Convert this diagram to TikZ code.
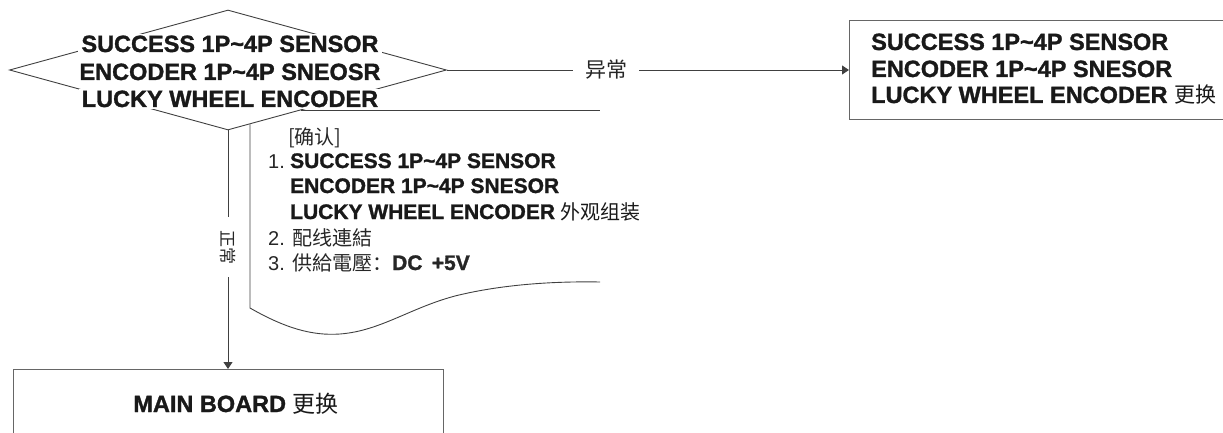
\documentclass[tikz,border=0pt]{standalone}
\usepackage{fontspec}
\setmainfont{Liberation Sans}[BoldFeatures={FakeBold=1.3}]
\newfontfamily\cjk{Noto Sans CJK SC}
\usetikzlibrary{arrows.meta,shapes.geometric}
\tikzset{
  ln/.style={draw=black!75, line width=0.9pt},
  boxln/.style={draw=black!60, line width=1.1pt},
  arr/.style={ln, -{Triangle[length=7pt,width=9pt]}},
  big/.style={font=\fontsize{23.5}{28}\selectfont\bfseries, text=black!90, inner sep=0pt},
  mid/.style={font=\fontsize{21}{25}\selectfont\bfseries, text=black!90, inner sep=0pt},
  mask/.style={fill=white, inner xsep=3pt, inner ysep=1.5pt},
  lbl/.style={font=\cjk\fontsize{21}{25}\selectfont, text=black!85, fill=white},
  reg/.style={font=\fontsize{20}{24}\selectfont, text=black!85, inner sep=0pt},
}
\begin{document}
\begin{tikzpicture}[x=1pt,y=-1pt]
\useasboundingbox (0,0) rectangle (1223,433);
\clip (0,0) rectangle (1223,433);
% decision diamond
\node[diamond, ln, fill=white, minimum width=437pt, minimum height=120pt, inner sep=0pt] (dia) at (228,70) {};
\node[big, mask, anchor=base] (d1) at (230,52) {SUCCESS 1P\textasciitilde4P SENSOR};
\node[big, mask, anchor=base] (d2) at (230,80) {ENCODER 1P\textasciitilde4P SNEOSR};
\node[big, mask, anchor=base] (d3) at (230,107) {LUCKY WHEEL ENCODER};
% document shape, its corner hidden behind the diamond
\draw[ln] (301,110) -- (600,110);
\draw[ln] (250,124.5) -- (250,308)
  .. controls (285,328) and (312,336) .. (340,334)
  .. controls (380,331) and (410,308) .. (455,296)
  .. controls (495,286) and (545,281) .. (600,282);
% right box
\node[boxln, anchor=north west, minimum width=420pt, minimum height=99pt, inner sep=0pt] (rbox) at (849,20) {};
\node[big, anchor=base west] (r1) at (871,50) {SUCCESS 1P\textasciitilde4P SENSOR};
\node[big, anchor=base west] (r2) at (871,77) {ENCODER 1P\textasciitilde4P SNESOR};
\node[big, anchor=base west] (r3) at (871,103) {LUCKY WHEEL ENCODER {\mdseries\cjk\fontsize{21}{25}\selectfont 更换}};
% main board box
\node[boxln, anchor=north west, minimum width=430pt, minimum height=100pt, inner sep=0pt] (mb) at (13,369) {};
\node[big, anchor=base] (mbt) at (236,412) {MAIN BOARD {\mdseries\cjk\fontsize{23}{27}\selectfont 更换}};
% connectors
\draw[arr] (dia.east) -- node[lbl, pos=0.396, inner xsep=12pt, inner ysep=1pt] (abn) {异常} (dia.east -| rbox.west);
\draw[arr] (dia.south) -- node[lbl, pos=0.49, rotate=-90, inner xsep=13pt, inner ysep=1pt, font=\cjk\fontsize{17}{20}\selectfont] (nor) {正常} (dia.south |- mb.north);
% document text
\node[reg, anchor=base west, font=\cjk\fontsize{20}{24}\selectfont] (cf) at (288,144) {[确认]};
\node[reg, anchor=base west] (n1) at (268,168) {1.};
\node[mid, anchor=base west] (t1) at (290,168) {SUCCESS 1P\textasciitilde4P SENSOR};
\node[mid, anchor=base west] (t2) at (290,193) {ENCODER 1P\textasciitilde4P SNESOR};
\node[mid, anchor=base west] (t3) at (290,219) {LUCKY WHEEL ENCODER {\mdseries\cjk\fontsize{20}{24}\selectfont 外观组装}};
\node[reg, anchor=base west] (n2) at (268,245) {2.};
\node[reg, anchor=base west, font=\cjk\fontsize{20}{24}\selectfont] (t4) at (292,245) {配线連結};
\node[reg, anchor=base west] (n3) at (268,270) {3.};
\node[reg, anchor=base west] (t5) at (292,270) {{\cjk 供給電壓：}{\bfseries\fontsize{21}{25}\selectfont DC \,+5V}};
\end{tikzpicture}
\end{document}
